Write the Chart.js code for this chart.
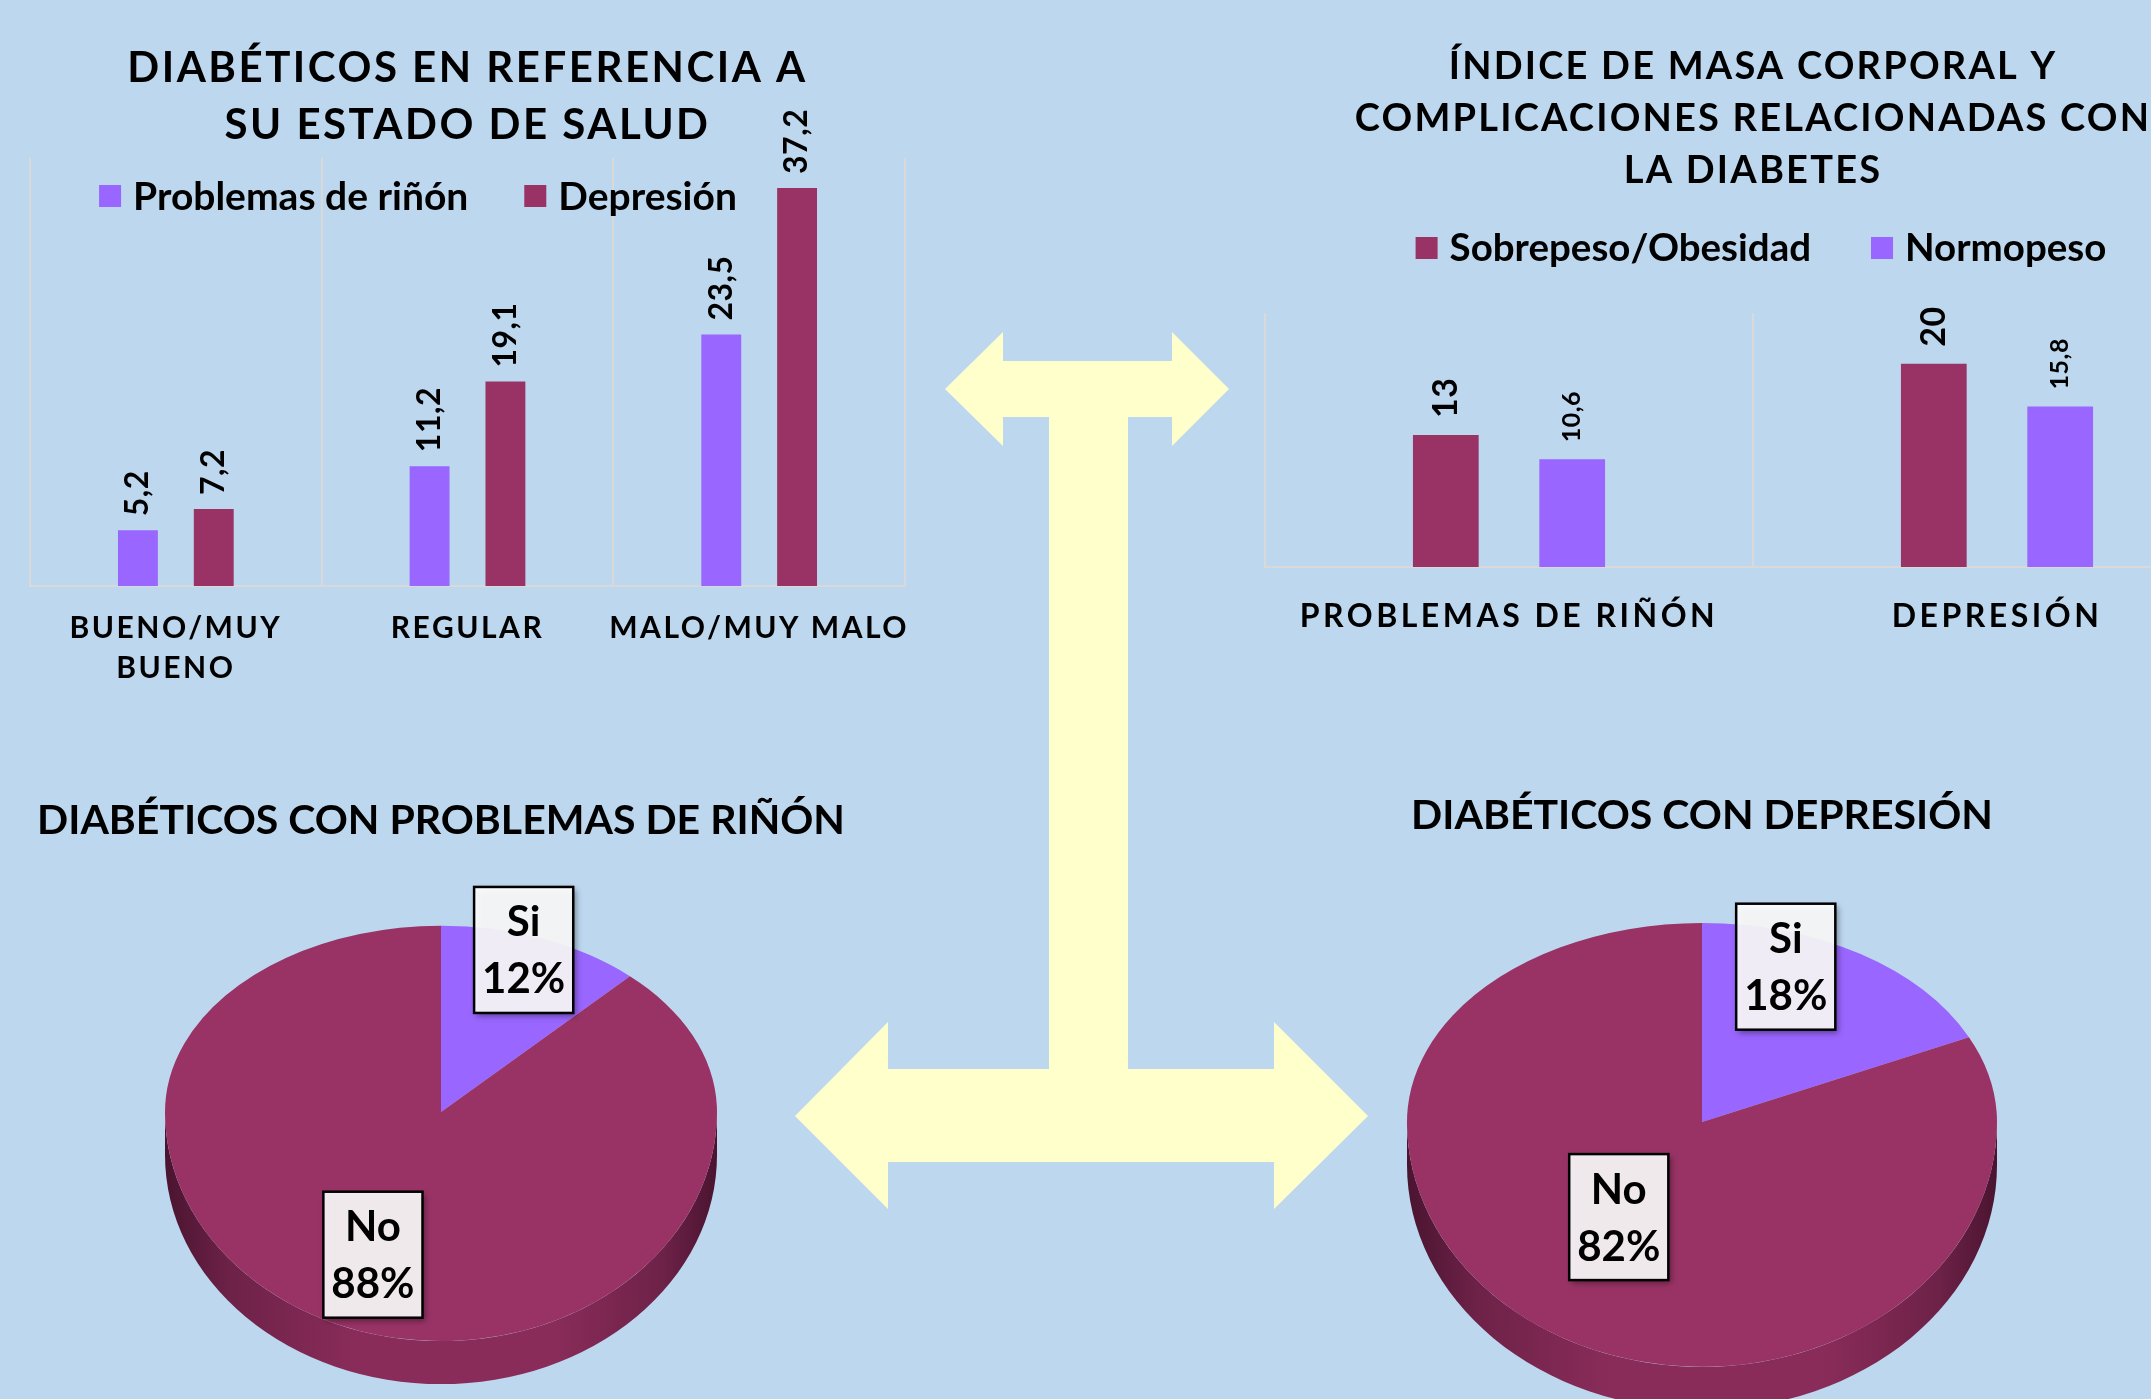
<!DOCTYPE html>
<html lang="es">
<head>
  <meta charset="UTF-8" />
  <title>Diabetes y complicaciones</title>
  <script src="https://cdn.jsdelivr.net/npm/chart.js@4.4.1/dist/chart.umd.min.js"></script>
  <style>
    html, body { margin: 0; padding: 0; }
    body {
      width: 2151px;
      height: 1399px;
      overflow: hidden;
      position: relative;
      background: #bdd7ee;
      font-family: Lato, sans-serif;
    }
    canvas, svg { position: absolute; }
    #arrows { left: 0; top: 0; }
    #saludChart { left: 0; top: 0; }
    #imcChart { left: 1230px; top: 0; }
    #rinonPie { left: 0; top: 740px; }
    #depresionPie { left: 1250px; top: 735px; }
  </style>
</head>
<body>
  <!-- yellow connector arrows -->
  <svg id="arrows" width="2151" height="1399">
    <polygon fill="#ffffcc" points="945,389 1003,332 1003,361 1172,361 1172,332 1229,389 1172,446 1172,417 1128,417 1128,1069 1274,1069 1274,1022 1368,1116 1274,1209 1274,1162 888,1162 888,1209 795,1116 888,1022 888,1069 1049,1069 1049,417 1003,417 1003,446" />
  </svg>

  <canvas id="saludChart" width="940" height="720"></canvas>
  <canvas id="imcChart" width="1046" height="700"></canvas>
  <canvas id="rinonPie" width="890" height="680"></canvas>
  <canvas id="depresionPie" width="900" height="720"></canvas>

  <script>
    // --- data ---
    const saludLabels = [['BUENO/MUY', 'BUENO'], 'REGULAR', 'MALO/MUY MALO'];
    const rinonSalud = [5.2, 11.2, 23.5];
    const depresionSalud = [7.2, 19.1, 37.2];

    const imcLabels = ['PROBLEMAS DE RIÑÓN', 'DEPRESIÓN'];
    const sobrepeso = [13, 20];
    const normopeso = [10.6, 15.8];

    const pieLabels = ['Si', 'No'];
    const rinonPie = [12, 88];
    const depresionPie = [18, 82];

    const PURPLE = '#9966ff';
    const MAROON = '#993366';
    const FONT = 'Lato';

    // letter spacing for title and x tick labels (canvas letterSpacing)
    const spacing = {
      id: 'spacing',
      beforeDraw(chart, args, opts) {
        const wrap = (obj, key, ls) => {
          if (!obj || obj['_ls_' + key]) return;
          const orig = obj[key].bind(obj);
          obj[key] = function (...a) {
            const c = chart.ctx;
            c.save();
            c.letterSpacing = ls;
            orig(...a);
            c.restore();
          };
          obj['_ls_' + key] = true;
        };
        if (opts.title) wrap(chart.titleBlock, 'draw', opts.title);
        if (opts.ticks && chart.scales.x) wrap(chart.scales.x, 'drawLabels', opts.ticks);
      }
    };

    // rotated value labels above bars
    const barValues = {
      id: 'barValues',
      afterDatasetsDraw(chart, args, opts) {
        const ctx = chart.ctx;
        chart.data.datasets.forEach((ds, i) => {
          const meta = chart.getDatasetMeta(i);
          meta.data.forEach((bar, j) => {
            ctx.save();
            ctx.translate(bar.x, bar.y - opts.gap);
            ctx.rotate(-Math.PI / 2);
            ctx.font = `bold ${opts.sizes[i]}px ${FONT}`;
            ctx.letterSpacing = opts.spacing;
            ctx.fillStyle = '#000';
            ctx.textAlign = 'left';
            ctx.textBaseline = 'middle';
            ctx.fillText(String(ds.data[j]).replace('.', ','), 0, 0);
            ctx.restore();
          });
        });
      }
    };

    // square-marker legend that may sit over the plot area
    const boxLegend = {
      id: 'boxLegend',
      afterDraw(chart, args, opts) {
        const ctx = chart.ctx;
        ctx.save();
        ctx.font = `bold ${opts.size}px ${FONT}`;
        const items = chart.data.datasets.map(ds => ({
          text: ds.label,
          color: ds.backgroundColor,
          w: ctx.measureText(ds.label).width
        }));
        const total = items.reduce((s, it) => s + opts.box + opts.textGap + it.w, 0) +
          opts.itemGap * (items.length - 1);
        let x = opts.cx - total / 2;
        items.forEach(it => {
          ctx.fillStyle = it.color;
          ctx.fillRect(x, opts.y - opts.box / 2, opts.box, opts.box);
          x += opts.box + opts.textGap;
          ctx.fillStyle = '#000';
          ctx.textBaseline = 'middle';
          ctx.textAlign = 'left';
          ctx.fillText(it.text, x, opts.y + 1);
          x += it.w + opts.itemGap;
        });
        ctx.restore();
      }
    };

    // tilted pie: back half squashed by tiltBack, front half by tiltFront, plus side wall
    const pie3d = {
      id: 'pie3d',
      beforeDatasetsDraw(chart, args, opts) {
        const ctx = chart.ctx;
        const arc = chart.getDatasetMeta(0).data[0];
        const { x, y, outerRadius: r } = arc;
        const d = opts.depth;
        const g = ctx.createLinearGradient(x - r, 0, x + r, 0);
        g.addColorStop(0, '#4a1430');
        g.addColorStop(0.12, '#6e2248');
        g.addColorStop(0.35, '#8a2c5a');
        g.addColorStop(0.7, '#8a2c5a');
        g.addColorStop(0.9, '#6e2248');
        g.addColorStop(1, '#4a1430');
        ctx.save();
        ctx.beginPath();
        ctx.ellipse(x, y + d, r, r * opts.tiltFront, 0, 0, Math.PI);
        ctx.ellipse(x, y, r, r * opts.tiltFront, 0, Math.PI, 0, true);
        ctx.closePath();
        ctx.fillStyle = g;
        ctx.fill();
        ctx.restore();

        // back half of the top face (drawn by Chart.js)
        ctx.save();
        ctx.beginPath();
        ctx.rect(0, 0, chart.width, y + 1);
        ctx.clip();
        ctx.translate(x, y);
        ctx.scale(1, opts.tiltBack);
        ctx.translate(-x, -y);
      },
      afterDatasetsDraw(chart, args, opts) {
        const ctx = chart.ctx;
        ctx.restore();
        const meta = chart.getDatasetMeta(0);
        const { x, y } = meta.data[0];

        // front half of the top face, same arc elements
        ctx.save();
        ctx.beginPath();
        ctx.rect(0, y, chart.width, chart.height - y);
        ctx.clip();
        ctx.translate(x, y);
        ctx.scale(1, opts.tiltFront);
        ctx.translate(-x, -y);
        meta.data.forEach(a => a.draw(ctx));
        ctx.restore();

        // boxed labels
        const values = chart.data.datasets[0].data;
        const total = values.reduce((a, b) => a + b, 0);
        meta.data.forEach((a, i) => {
          const p = opts.labels[i];
          const mid = p.angle != null ? (p.angle - 90) * Math.PI / 180 : (a.startAngle + a.endAngle) / 2;
          const t = Math.sin(mid) < 0 ? opts.tiltBack : opts.tiltFront;
          const lx = a.x + Math.cos(mid) * a.outerRadius * p.f;
          const ly = a.y + Math.sin(mid) * a.outerRadius * p.f * t;
          const lines = [chart.data.labels[i], Math.round(values[i] / total * 100) + '%'];
          ctx.save();
          ctx.font = `bold 42px ${FONT}`;
          const w = Math.max(...lines.map(s => ctx.measureText(s).width)) + 16;
          const h = 126;
          ctx.shadowColor = 'rgba(0,0,0,0.45)';
          ctx.shadowBlur = 6;
          ctx.shadowOffsetX = 3;
          ctx.shadowOffsetY = 3;
          ctx.fillStyle = 'rgba(255,255,255,0.9)';
          ctx.fillRect(lx - w / 2, ly - h / 2, w, h);
          ctx.shadowColor = 'transparent';
          ctx.lineWidth = 2.5;
          ctx.strokeStyle = '#000';
          ctx.strokeRect(lx - w / 2, ly - h / 2, w, h);
          ctx.fillStyle = '#000';
          ctx.textAlign = 'center';
          ctx.textBaseline = 'middle';
          ctx.fillText(lines[0], lx, ly - 27);
          ctx.fillText(lines[1], lx, ly + 30);
          ctx.restore();
        });
      }
    };

    const gridStyle = { color: '#d9d9d9', lineWidth: 2, drawTicks: false };

    // --- chart 1: estado de salud ---
    new Chart(document.getElementById('saludChart'), {
      type: 'bar',
      data: {
        labels: saludLabels,
        datasets: [
          { label: 'Problemas de riñón', data: rinonSalud, backgroundColor: PURPLE,
            categoryPercentage: 0.52, barPercentage: 0.526 },
          { label: 'Depresión', data: depresionSalud, backgroundColor: MAROON,
            categoryPercentage: 0.52, barPercentage: 0.526 }
        ]
      },
      options: {
        responsive: false,
        animation: false,
        layout: { padding: { left: 30, right: 35, top: 0, bottom: 0 } },
        scales: {
          x: {
            grid: gridStyle,
            border: { color: '#d9d9d9', width: 2 },
            ticks: { color: '#000', padding: 22, maxRotation: 0,
              font: { family: FONT, size: 30, weight: 'bold', lineHeight: 1.33 } },
            afterFit(s) { s.height = 134; }
          },
          y: { display: false, min: 0, max: 40 }
        },
        plugins: {
          legend: { display: false },
          tooltip: { enabled: false },
          title: {
            display: true,
            text: ['DIABÉTICOS EN REFERENCIA A', 'SU ESTADO DE SALUD'],
            color: '#000',
            font: { family: FONT, size: 42, weight: 'bold', lineHeight: 1.357 },
            padding: { top: 40, bottom: 4 }
          },
          spacing: { title: '2.5px', ticks: '2.5px' },
          barValues: { gap: 14, sizes: [32, 32], spacing: '0.5px' },
          boxLegend: { cx: 418, y: 196, size: 39, box: 22, textGap: 12, itemGap: 56 }
        }
      },
      plugins: [spacing, barValues, boxLegend]
    });

    // --- chart 2: IMC y complicaciones ---
    new Chart(document.getElementById('imcChart'), {
      type: 'bar',
      data: {
        labels: imcLabels,
        datasets: [
          { label: 'Sobrepeso/Obesidad', data: sobrepeso, backgroundColor: MAROON,
            categoryPercentage: 0.518, barPercentage: 0.52 },
          { label: 'Normopeso', data: normopeso, backgroundColor: PURPLE,
            categoryPercentage: 0.518, barPercentage: 0.52 }
        ]
      },
      options: {
        responsive: false,
        animation: false,
        layout: { padding: { left: 35, right: 35, top: 0, bottom: 0 } },
        scales: {
          x: {
            grid: gridStyle,
            border: { color: '#d9d9d9', width: 2 },
            ticks: { color: '#000', padding: 30, maxRotation: 0, autoSkip: false,
              font: { family: FONT, size: 32, weight: 'bold', lineHeight: 1.2 } },
            afterFit(s) { s.height = 133; }
          },
          y: { display: false, min: 0, max: 25 }
        },
        plugins: {
          legend: { display: false },
          tooltip: { enabled: false },
          title: {
            display: true,
            text: ['ÍNDICE DE MASA CORPORAL Y', 'COMPLICACIONES RELACIONADAS CON', 'LA DIABETES'],
            color: '#000',
            font: { family: FONT, size: 38, weight: 'bold', lineHeight: 1.368 },
            padding: { top: 41, bottom: 116 }
          },
          spacing: { title: '2.2px', ticks: '3.5px' },
          barValues: { gap: 17, sizes: [34, 25], spacing: '0.5px' },
          boxLegend: { cx: 531, y: 248, size: 38.5, box: 22, textGap: 12, itemGap: 60 }
        }
      },
      plugins: [spacing, barValues, boxLegend]
    });

    // --- pies ---
    function makePie(id, title, values, pad, labelPos) {
      return new Chart(document.getElementById(id), {
        type: 'pie',
        data: {
          labels: pieLabels,
          datasets: [{ data: values, backgroundColor: [PURPLE, MAROON], borderWidth: 0 }]
        },
        options: {
          responsive: false,
          animation: false,
          layout: { padding: pad.layout },
          plugins: {
            legend: { display: false },
            tooltip: { enabled: false },
            title: {
              display: true,
              text: title,
              color: '#000',
              font: { family: FONT, size: 41, weight: 'bold', lineHeight: 1.0 },
              padding: pad.title
            },
            pie3d: { tiltBack: 0.675, tiltFront: 0.83, depth: 43, labels: labelPos }
          }
        },
        plugins: [pie3d]
      });
    }

    makePie('rinonPie', 'DIABÉTICOS CON PROBLEMAS DE RIÑÓN', rinonPie,
      { layout: { left: 0, right: 8, top: 0, bottom: 32 }, title: { top: 60, bottom: -5 } },
      [{ f: 0.92, angle: 19 }, { f: 0.67 }]);

    makePie('depresionPie', 'DIABÉTICOS CON DEPRESIÓN', depresionPie,
      { layout: { left: 4, right: 0, top: 0, bottom: 38 }, title: { top: 60, bottom: -9 } },
      [{ f: 0.83, angle: 20 }, { f: 0.48, angle: 216 }]);
  </script>
</body>
</html>
